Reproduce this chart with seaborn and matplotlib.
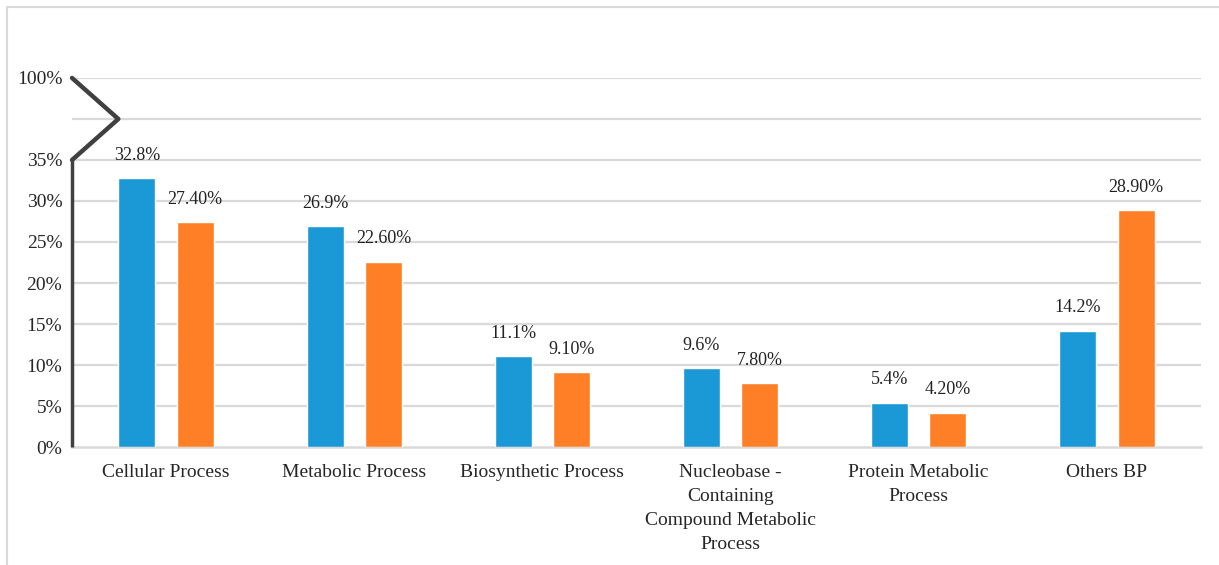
import matplotlib
matplotlib.use("Agg")
import matplotlib.pyplot as plt
import seaborn as sns
import pandas as pd
from matplotlib.lines import Line2D

# values
categories = ["Cellular Process", "Metabolic Process", "Biosynthetic Process",
              "Nucleobase -\nContaining\nCompound Metabolic\nProcess",
              "Protein Metabolic\nProcess", "Others BP"]
series_a = [32.8, 26.9, 11.1, 9.6, 5.4, 14.2]
series_b = [27.4, 22.6, 9.1, 7.8, 4.2, 28.9]
labels_a = ["32.8%", "26.9%", "11.1%", "9.6%", "5.4%", "14.2%"]
labels_b = ["27.40%", "22.60%", "9.10%", "7.80%", "4.20%", "28.90%"]
# broken axis: the top gridline (drawn at 45) stands for 100%
tick_vals = [0, 5, 10, 15, 20, 25, 30, 35, 45]
tick_text = ["0%", "5%", "10%", "15%", "20%", "25%", "30%", "35%", "100%"]

df = pd.DataFrame({
    "cat": categories * 2,
    "val": series_a + series_b,
    "series": ["A"] * 6 + ["B"] * 6,
})

sns.set_style("white")
plt.rcParams["font.family"] = ["Liberation Serif", "DejaVu Serif"]

fig = plt.figure(figsize=(12.19, 5.65), dpi=100)
ax = fig.add_axes([0.0591, 0.2088, 0.9261, 0.6532])

colours = {"A": "#1B98D6", "B": "#FF7F27"}
sns.barplot(data=df, x="cat", y="val", hue="series", palette=colours,
            width=0.62, gap=0.365, saturation=1, legend=False, ax=ax, zorder=3)

ax.set_ylim(0, 45)
ax.set_xlim(-0.5, 5.5)
ax.set_yticks(tick_vals)
ax.set_yticklabels(tick_text, fontsize=14)
ax.tick_params(axis="y", length=0, pad=7)
ax.tick_params(axis="x", length=0, pad=12, labelsize=14)
for lab in ax.get_xticklabels():
    lab.set_linespacing(1.55)
ax.set_xlabel("")
ax.set_ylabel("")

# gridlines (including the unlabeled 40 line)
for g in [5, 10, 15, 20, 25, 30, 35, 40, 45]:
    ax.axhline(g, color="#d9d9d9", lw=1.6, zorder=0)

for s in ["top", "right", "left"]:
    ax.spines[s].set_visible(False)
ax.spines["bottom"].set_color("#d9d9d9")
ax.spines["bottom"].set_linewidth(1.8)

# dark left axis with the break zigzag
ax.plot([0, 0], [0, 35], color="#404040", lw=2.5, transform=ax.get_yaxis_transform(),
        clip_on=False, zorder=4, solid_capstyle="butt")
ax.plot([0, 0.041, 0], [35, 40, 45], color="#404040", lw=3.2,
        transform=ax.get_yaxis_transform(), clip_on=False, zorder=4)

# value labels
for bars, labs in zip(ax.containers, [labels_a, labels_b]):
    for rect, txt in zip(bars, labs):
        ax.annotate(txt, (rect.get_x() + rect.get_width() / 2, rect.get_height()),
                    xytext=(0, 16.5), textcoords="offset points",
                    ha="center", va="center", fontsize=13, color="#222222")

# light frame of the original figure
fig.add_artist(Line2D([7 / 1219, 1], [1 - 7 / 565, 1 - 7 / 565], color="#d9d9d9", lw=1.5))
fig.add_artist(Line2D([7 / 1219, 7 / 1219], [0, 1 - 7 / 565], color="#d9d9d9", lw=1.5))

fig.savefig("out.png", dpi=100)
